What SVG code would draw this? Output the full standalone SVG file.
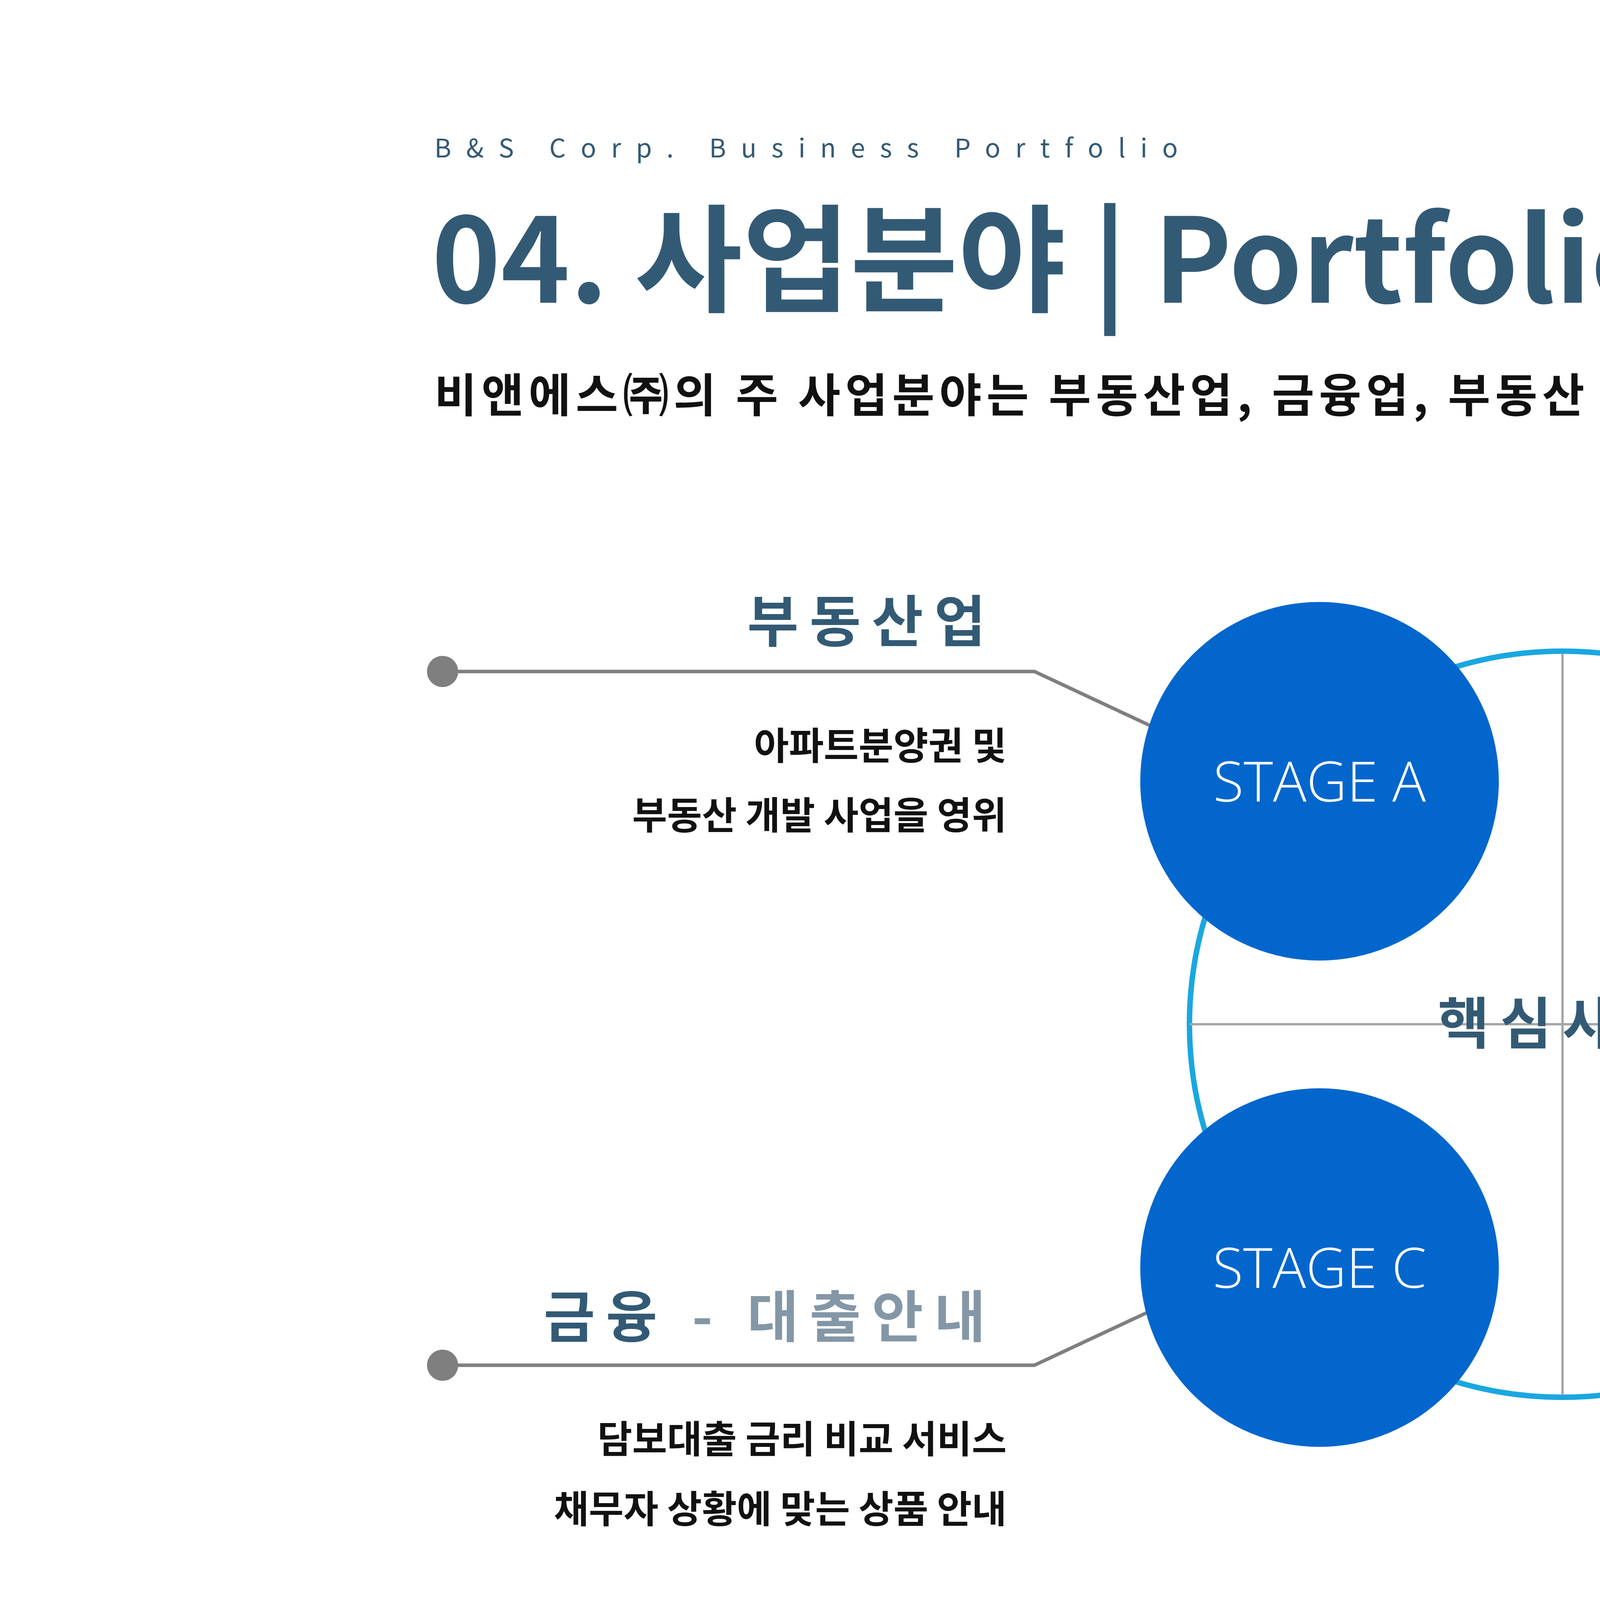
<svg xmlns="http://www.w3.org/2000/svg" width="8000" height="4500" viewBox="0 0 8000 4500">
<style>
.k{font-family:"Noto Sans CJK KR","Noto Sans",sans-serif}
.h{font-size:143px;font-weight:bold;fill:#335a75;letter-spacing:28px}
.g{fill:#8497a6}
.b{font-size:97px;font-weight:bold;fill:#111}
.st{font-family:"Open Sans","Noto Sans",sans-serif;font-size:143px;fill:#fff;text-anchor:middle;font-weight:300}
.ln{fill:none;stroke:#7f7f7f;stroke-width:9}
</style>
<rect width="8000" height="4500" fill="#fff"/>
<text class="k" x="1112" y="403" font-size="66" fill="#335a75" letter-spacing="38">B&amp;S Corp. Business Portfolio</text>
<text class="k" x="1105" y="775" font-size="300" font-weight="bold" fill="#335a75">04. 사업분야 | Portfolio</text>
<text class="k" x="1112" y="1055" font-size="118" font-weight="bold" fill="#111" letter-spacing="12">비앤에스㈜의 주 사업분야는 부동산업, 금융업, 부동산 관련 교육업입니다.</text>
<g id="core">
<circle cx="4000" cy="2622" r="955" fill="#fff" stroke="#1aa7e0" stroke-width="14"/>
<line x1="4000" y1="1673" x2="4000" y2="3571" stroke="#a6a6a6" stroke-width="6"/>
<line x1="3046" y1="2622" x2="4945" y2="2622" stroke="#a6a6a6" stroke-width="6"/>
<text class="k h" x="4000" y="2672" text-anchor="middle">핵심사업</text>
</g>
<g id="connectors">
<polyline class="ln" points="1133,1719 2648,1719 3031,1898"/>
<polyline class="ln" points="6934,1719 5337,1719 4944,1898"/>
<polyline class="ln" points="1133,3495 2648,3495 3031,3316"/>
<polyline class="ln" points="6934,3495 5337,3495 4944,3316"/>
<circle cx="1133" cy="1719" r="40" fill="#7f7f7f"/>
<circle cx="6934" cy="1719" r="40" fill="#7f7f7f"/>
<circle cx="1133" cy="3495" r="40" fill="#7f7f7f"/>
<circle cx="6934" cy="3495" r="40" fill="#7f7f7f"/>
</g>
<g id="stageA"><circle cx="3378" cy="2000" r="459" fill="#0366cc"/><text class="st" x="3378" y="2052">STAGE A</text></g>
<g id="stageB"><circle cx="4617" cy="2000" r="459" fill="#0070c0"/><text class="st" x="4617" y="2052">STAGE B</text></g>
<g id="stageC"><circle cx="3378" cy="3245" r="459" fill="#0366cc"/><text class="st" x="3378" y="3297">STAGE C</text></g>
<g id="stageD"><circle cx="4617" cy="3245" r="459" fill="#0070c0"/><text class="st" x="4617" y="3297">STAGE D</text></g>
<g id="labelA">
<text class="k h" x="2551" y="1643" text-anchor="end">부동산업</text>
<text class="k b" x="2577" y="1944" text-anchor="end">아파트분양권 및</text>
<text class="k b" x="2577" y="2122" text-anchor="end">부동산 개발 사업을 영위</text>
</g>
<g id="labelB">
<text class="k h" x="5464" y="1643">금융 <tspan class="g">- 상품개발</tspan></text>
<text class="k b" x="5464" y="1929">아파트간접투자, 부동산담보 단기</text>
<text class="k b" x="5464" y="2092">및 장기 투자 상품을 개발하여</text>
<text class="k b" x="5464" y="2255">투자자 포트폴리오 다양화에 기여</text>
</g>
<g id="labelC">
<text class="k h" x="2551" y="3423" text-anchor="end">금융 <tspan class="g">- 대출안내</tspan></text>
<text class="k b" x="2577" y="3719" text-anchor="end">담보대출 금리 비교 서비스</text>
<text class="k b" x="2577" y="3898" text-anchor="end">채무자 상황에 맞는 상품 안내</text>
</g>
<g id="labelD">
<text class="k h" x="5464" y="3423">교육사업</text>
<text class="k b" x="5464" y="3719">주택청약교육 (청년 대상)</text>
<text class="k b" x="5464" y="3898">투자상품교육, 부동산운영 교육</text>
</g>
</svg>
